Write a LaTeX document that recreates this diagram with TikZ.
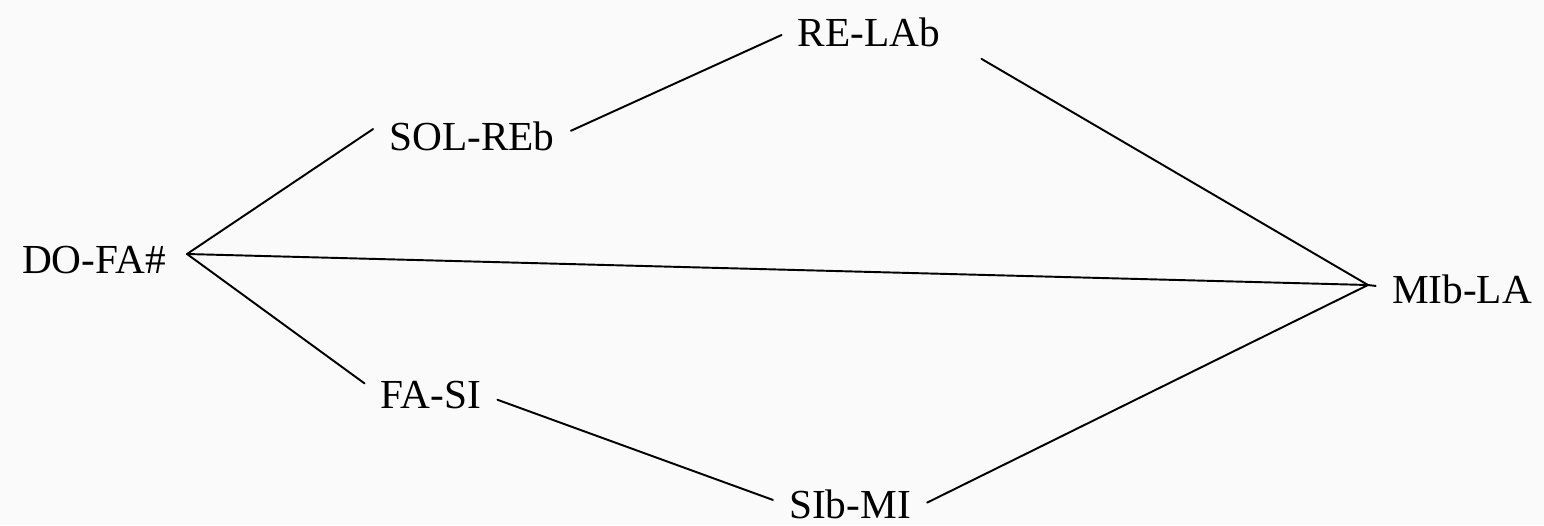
\documentclass[tikz,border=0pt]{standalone}
\usepackage{fontspec}
\setmainfont{Liberation Serif}
\usetikzlibrary{calc}

\begin{document}
\begin{tikzpicture}[line cap=round,line join=round,x=0.02cm,y=-0.02cm,
    tone/.style={anchor=base,font=\fontsize{23.5}{28}\selectfont,text height=16pt,text depth=0pt,inner xsep=0.32cm,inner ysep=0.1cm}]
                \useasboundingbox (0,0) rectangle (1544,525);
                \fill [gray!4] (0,0) rectangle (1544,525);
                % the six pairs
                \node [tone] (dofa) at (94,273) {DO-FA\#};
                \node [tone] (solre) at (472,150) {SOL-REb};
                \node [tone] (rela) at (869,46) {RE-LAb};
                \node [tone] (mila) at (1462,303) {MIb-LA};
                \node [tone] (fasi) at (431,408) {FA-SI};
                \node [tone] (simi) at (850,518) {SIb-MI};
                \coordinate (dofatip) at (187,254);
                \coordinate (milatip) at (1368,285);
                % connectors
                \draw [line width=1.1pt] (dofatip)-- (solre.176);
                \draw [line width=1.1pt] (dofatip)-- (milatip);
                \draw [line width=1.1pt] (dofatip)-- (fasi.171);
                \draw [line width=1.1pt] (solre.3)-- (rela.182);
                \draw [line width=1.1pt,shorten <=0.58cm] (rela.-8)-- (milatip);
                \draw [line width=1.1pt] (fasi.-5)-- (simi.177);
                \draw [line width=1.1pt] (simi.1.5)-- (milatip);
                \draw [line width=1.1pt] (milatip)-- (mila.178);
            \end{tikzpicture}
\end{document}
